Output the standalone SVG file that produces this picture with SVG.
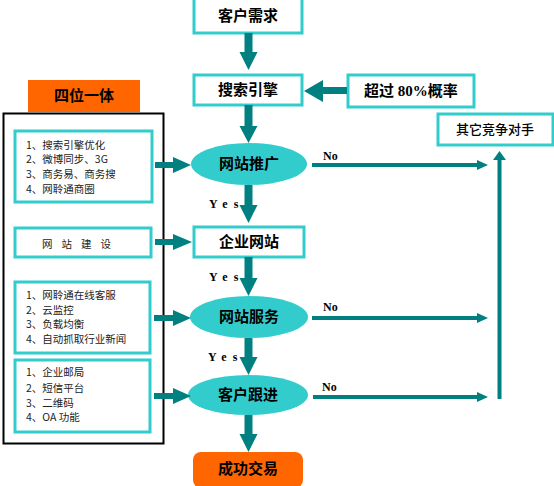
<svg xmlns="http://www.w3.org/2000/svg" width="554" height="486" viewBox="0 0 554 486">
<style>
.box{fill:#fff;stroke:#33cccc;stroke-width:3}
.ell{fill:#33cccc}
.org{fill:#ff6600}
.t{font-family:"Liberation Serif","Noto Sans CJK SC",sans-serif;font-size:15px;font-weight:bold;fill:#000;text-anchor:middle;dominant-baseline:central}
.tn{font-weight:500;font-size:13px}
.s{font-family:"Noto Sans CJK SC",sans-serif;font-size:10.5px;fill:#222;dominant-baseline:central}
.lbl{font-family:"Liberation Serif",serif;font-size:12px;font-weight:bold;fill:#000}
.yes{font-family:"Liberation Serif",serif;font-size:12px;font-weight:bold;fill:#000;letter-spacing:6px}
.ar{fill:#008080}
.ln{stroke:#008080;stroke-width:4;fill:none}
</style>
<g id="left-panel">
<rect x="3.5" y="113.5" width="160" height="330" fill="#fff" stroke="#000" stroke-width="2"/>
</g>
<g id="sw-yiti"><rect class="org" x="28" y="80" width="112" height="32"/><text class="t" x="84" y="96">四位一体</text></g>
<g id="list1"><rect class="box" x="15" y="131" width="137" height="71" stroke-width="2.5"/>
<text class="s" x="26" y="144">1、搜索引擎优化</text>
<text class="s" x="26" y="158.5">2、微博同步、3G</text>
<text class="s" x="26" y="173">3、商务易、商务搜</text>
<text class="s" x="26" y="188">4、网聆通商圈</text></g>
<g id="list2"><rect class="box" x="15" y="228" width="136" height="29" stroke-width="2.5"/>
<text class="s" x="81" y="243" text-anchor="middle" letter-spacing="9">网站建设</text></g>
<g id="list3"><rect class="box" x="15" y="282" width="135" height="71" stroke-width="2.5"/>
<text class="s" x="26" y="294">1、网聆通在线客服</text>
<text class="s" x="26" y="309">2、云监控</text>
<text class="s" x="26" y="323">3、负载均衡</text>
<text class="s" x="26" y="338">4、自动抓取行业新闻</text></g>
<g id="list4"><rect class="box" x="15" y="360" width="135" height="72" stroke-width="2.5"/>
<text class="s" x="26" y="371">1、企业邮局</text>
<text class="s" x="26" y="387">2、短信平台</text>
<text class="s" x="26" y="402">3、二维码</text>
<text class="s" x="26" y="416">4、OA 功能</text></g>
<g id="n-xuqiu"><rect class="box" x="194" y="-2" width="108" height="35"/><text class="t" x="248" y="16">客户需求</text></g>
<g id="n-sousuo"><rect class="box" x="194" y="75" width="108" height="30"/><text class="t" x="248" y="90">搜索引擎</text></g>
<g id="n-gailv"><rect class="box" x="348" y="75" width="126" height="32"/><text class="t" x="411" y="91">超过 80%概率</text></g>
<g id="n-jingzheng"><rect class="box" x="438" y="114" width="115" height="31"/><text class="t tn" x="495" y="129.5">其它竞争对手</text></g>
<g id="n-tuiguang"><ellipse class="ell" cx="249" cy="164" rx="58" ry="21"/><text class="t" x="249" y="164">网站推广</text></g>
<g id="n-qiye"><rect class="box" x="194" y="227" width="110" height="30"/><text class="t" x="249" y="242">企业网站</text></g>
<g id="n-fuwu"><ellipse class="ell" cx="249" cy="317" rx="59" ry="21"/><text class="t" x="249" y="317">网站服务</text></g>
<g id="n-genjin"><ellipse class="ell" cx="248" cy="395" rx="60" ry="20"/><text class="t" x="248" y="395">客户跟进</text></g>
<g id="n-chenggong"><rect class="org" x="193" y="452" width="110" height="36" rx="8"/><text class="t" x="248" y="469">成功交易</text></g>
<g id="connectors">
<path class="ar" d="M244.5,33 h8 v19 h5 l-9,18 l-9,-18 h5z"/>
<path class="ar" d="M244.5,105 h8 v21 h5 l-9,17 l-9,-17 h5z"/>
<path class="ar" d="M244.5,185 h8 v20 h5 l-9,18 l-9,-18 h5z"/>
<path class="ar" d="M244.5,257 h8 v21 h5 l-9,18 l-9,-18 h5z"/>
<path class="ar" d="M244.5,338 h8 v19 h5 l-9,18 l-9,-18 h5z"/>
<path class="ar" d="M244.5,415 h8 v19 h5 l-9,18 l-9,-18 h5z"/>
<path class="ar" d="M347,87 v7 h-24 v8 l-19,-11 l19,-11 v7z"/>
<path class="ar" d="M155,162 h18 v-5 l18,8 l-18,8 v-5 h-18z"/>
<path class="ar" d="M155,239 h18 v-5 l19,8 l-19,8 v-5 h-18z"/>
<path class="ar" d="M154,315 h19 v-5 l18,8 l-18,8 v-5 h-19z"/>
<path class="ar" d="M154,393 h19 v-5 l18,8 l-18,8 v-5 h-19z"/>
<line class="ln" x1="312" y1="165" x2="479" y2="165"/>
<path class="ar" d="M477,160 l11,5 l-11,5z"/>
<line class="ln" x1="312" y1="318" x2="479" y2="318"/>
<path class="ar" d="M477,313 l11,5 l-11,5z"/>
<line class="ln" x1="313" y1="397" x2="479" y2="397"/>
<path class="ar" d="M477,392 l11,5 l-11,5z"/>
<line class="ln" x1="499.5" y1="399" x2="499.5" y2="158" stroke-width="5"/>
<path class="ar" d="M493,160 l6.5,-9 l6.5,9z"/>
</g>
<g id="labels">
<text class="lbl" x="323" y="160">No</text>
<text class="lbl" x="323" y="311">No</text>
<text class="lbl" x="322" y="391">No</text>
<text class="yes" x="209" y="208">Yes</text>
<text class="yes" x="209" y="281">Yes</text>
<text class="yes" x="208" y="361">Yes</text>
</g>
</svg>
